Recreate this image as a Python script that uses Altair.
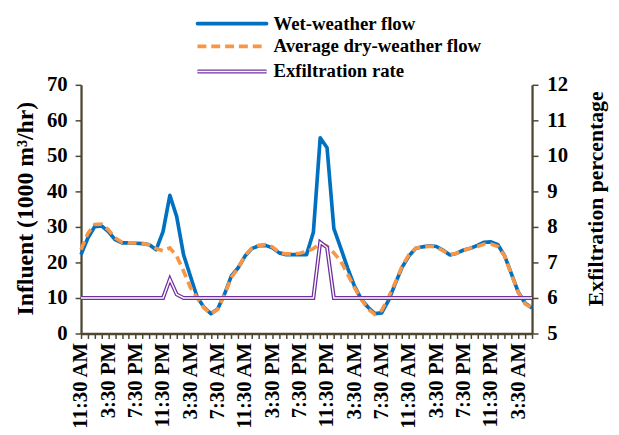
import json
import altair as alt
import pandas as pd

# ---- data ----
hours = list(range(67))  # hourly samples, 11:30 AM day 1 -> 5:30 AM day 3

wet_weather_flow = [
    22.2, 26.9, 30.1, 30.3, 28.7, 26.4, 25.5, 25.5, 25.4, 25.3,
    25.0, 23.6, 28.7, 38.9, 32.9, 22.2, 16.2, 10.2, 7.4, 5.6,
    6.9, 11.1, 16.2, 18.5, 21.8, 23.9, 24.7, 24.8, 24.1, 22.7,
    22.2, 22.2, 22.2, 22.2, 28.5, 55.1, 52.3, 29.5, 24.1, 18.5,
    13.4, 9.7, 7.4, 5.6, 5.8, 9.3, 14.1, 18.7, 21.9, 24.0,
    24.4, 24.7, 24.5, 23.4, 22.1, 22.6, 23.5, 24.0, 24.8, 25.7,
    25.8, 25.0, 21.8, 16.7, 11.6, 8.5, 7.2,
]

avg_dry_weather_flow = [
    23.6, 28.2, 30.7, 30.8, 29.2, 26.9, 25.7, 25.5, 25.5, 25.3,
    25.0, 23.9, 23.3, 24.1, 21.8, 17.6, 13.0, 10.0, 7.2, 5.5,
    6.8, 11.0, 15.8, 18.5, 22.0, 24.0, 24.8, 25.0, 24.4, 22.8,
    22.4, 22.4, 22.6, 23.1, 23.9, 25.3, 24.6, 22.7, 20.4, 16.7,
    13.0, 9.7, 6.9, 5.4, 6.5, 10.2, 14.4, 19.0, 22.2, 24.0,
    24.4, 24.6, 24.3, 23.3, 22.2, 22.6, 23.4, 24.0, 24.5, 25.2,
    25.2, 24.5, 21.8, 16.5, 11.5, 8.3, 7.2,
]

exfiltration_rate = [6.0] * 67
exfiltration_rate[13] = 6.53
exfiltration_rate[14] = 6.1
exfiltration_rate[35] = 7.57
exfiltration_rate[36] = 7.42

tick_labels = [
    "11:30 AM", "3:30 PM", "7:30 PM", "11:30 PM", "3:30 AM", "7:30 AM",
    "11:30 AM", "3:30 PM", "7:30 PM", "11:30 PM", "3:30 AM", "7:30 AM",
    "11:30 AM", "3:30 PM", "7:30 PM", "11:30 PM", "3:30 AM",
]

legend_names = ["Wet-weather flow", "Average dry-weather flow", "Exfiltration rate"]

# ---- styling ----
FONT = "Liberation Serif"
AXIS_COLOR = "#4D4630"
BLUE = "#0070C0"
ORANGE = "#F79646"
PURPLE = "#7030A0"

df = pd.DataFrame({
    "hour": hours,
    "wet": wet_weather_flow,
    "dry": avg_dry_weather_flow,
    "exf": exfiltration_rate,
})

label_expr = "datum.value % 4 == 0 ? " + json.dumps(tick_labels) + "[datum.value / 4] : ''"

x_enc = alt.X(
    "hour:Q",
    scale=alt.Scale(domain=[0, 66], nice=False, zero=False),
    axis=alt.Axis(
        values=hours, labelExpr=label_expr, labelAngle=270, labelAlign="right",
        labelBaseline="middle", labelPadding=4, labelOverlap=False, labelFlush=False,
        labelBound=False, tickSize=5, tickWidth=1.5, title=None, grid=False,
        labelFontSize=21,
    ),
)

left_axis = alt.Axis(
    values=list(range(0, 71, 10)), title="Influent (1000 m³/hr)", grid=False,
    tickSize=6, tickWidth=1.5, labelPadding=8, titleX=-56, titleY=125,
    titleAngle=270, titleAlign="center", titleBaseline="middle",
    titleFontSize=24, labelFontSize=21,
)
left_scale = alt.Scale(domain=[0, 70], nice=False)

right_axis = alt.Axis(
    orient="right", values=list(range(5, 13)), title="Exfiltration percentage",
    grid=False, tickSize=6, tickWidth=1.5, labelPadding=9, titleX=64, titleY=115,
    titleAngle=270, titleAlign="center", titleBaseline="middle",
    titleFontSize=22, labelFontSize=21,
)
right_scale = alt.Scale(domain=[5, 12], nice=False, zero=False)

base = alt.Chart(df)

blue = base.mark_line(color=BLUE, strokeWidth=3.7, strokeJoin="round").encode(
    x=x_enc, y=alt.Y("wet:Q", scale=left_scale, axis=left_axis)
)
orange = base.mark_line(color=ORANGE, strokeWidth=3.7, strokeDash=[9, 5]).encode(
    x=x_enc, y=alt.Y("dry:Q", scale=left_scale, axis=left_axis)
)
purple = base.mark_line(color=PURPLE, strokeWidth=4).encode(
    x=x_enc, y=alt.Y("exf:Q", scale=right_scale, axis=right_axis)
)
white = base.mark_line(color="white", strokeWidth=1.4).encode(
    x=x_enc, y=alt.Y("exf:Q", scale=right_scale, axis=right_axis)
)

left = alt.layer(blue, orange)
right = alt.layer(purple, white)

# ---- manual legend (placed above the plot area) ----
one = alt.Data(values=[{}])
rows_y = [-62, -39, -13.5]
lx1, lx2, tx = 118, 188, 195

leg_blue = alt.Chart(one).mark_rule(color=BLUE, strokeWidth=3.7, strokeCap="round").encode(
    x=alt.value(lx1), x2=alt.value(lx2), y=alt.value(rows_y[0]))
leg_orange = alt.Chart(one).mark_rule(color=ORANGE, strokeWidth=3.7, strokeDash=[9, 5]).encode(
    x=alt.value(lx1), x2=alt.value(lx2), y=alt.value(rows_y[1]))
leg_purple = alt.Chart(one).mark_rule(color=PURPLE, strokeWidth=4).encode(
    x=alt.value(lx1), x2=alt.value(lx2), y=alt.value(rows_y[2]))
leg_white = alt.Chart(one).mark_rule(color="white", strokeWidth=1.4).encode(
    x=alt.value(lx1), x2=alt.value(lx2), y=alt.value(rows_y[2]))

leg_texts = [
    alt.Chart(one).mark_text(
        align="left", baseline="middle", font=FONT, fontWeight="bold", fontSize=19, color="black"
    ).encode(x=alt.value(tx), y=alt.value(yy), text=alt.value(name))
    for name, yy in zip(legend_names, rows_y)
]

chart = alt.layer(
    left, right, leg_blue, leg_orange, leg_purple, leg_white, *leg_texts
).resolve_scale(y="independent").properties(
    width=457, height=252,
    autosize=alt.AutoSizeParams(type="none"),
    padding={"left": 74, "top": 75, "right": 80, "bottom": 100},
).configure_view(stroke=None).configure_axis(
    domainColor=AXIS_COLOR, domainWidth=2.3, tickColor=AXIS_COLOR,
    labelFont=FONT, labelFontWeight="bold", labelFontSize=21, labelColor="black",
    titleFont=FONT, titleFontWeight="bold", titleFontSize=22, titleColor="black",
)

chart.save("out.html", embed_options={"renderer": "svg", "actions": False})
